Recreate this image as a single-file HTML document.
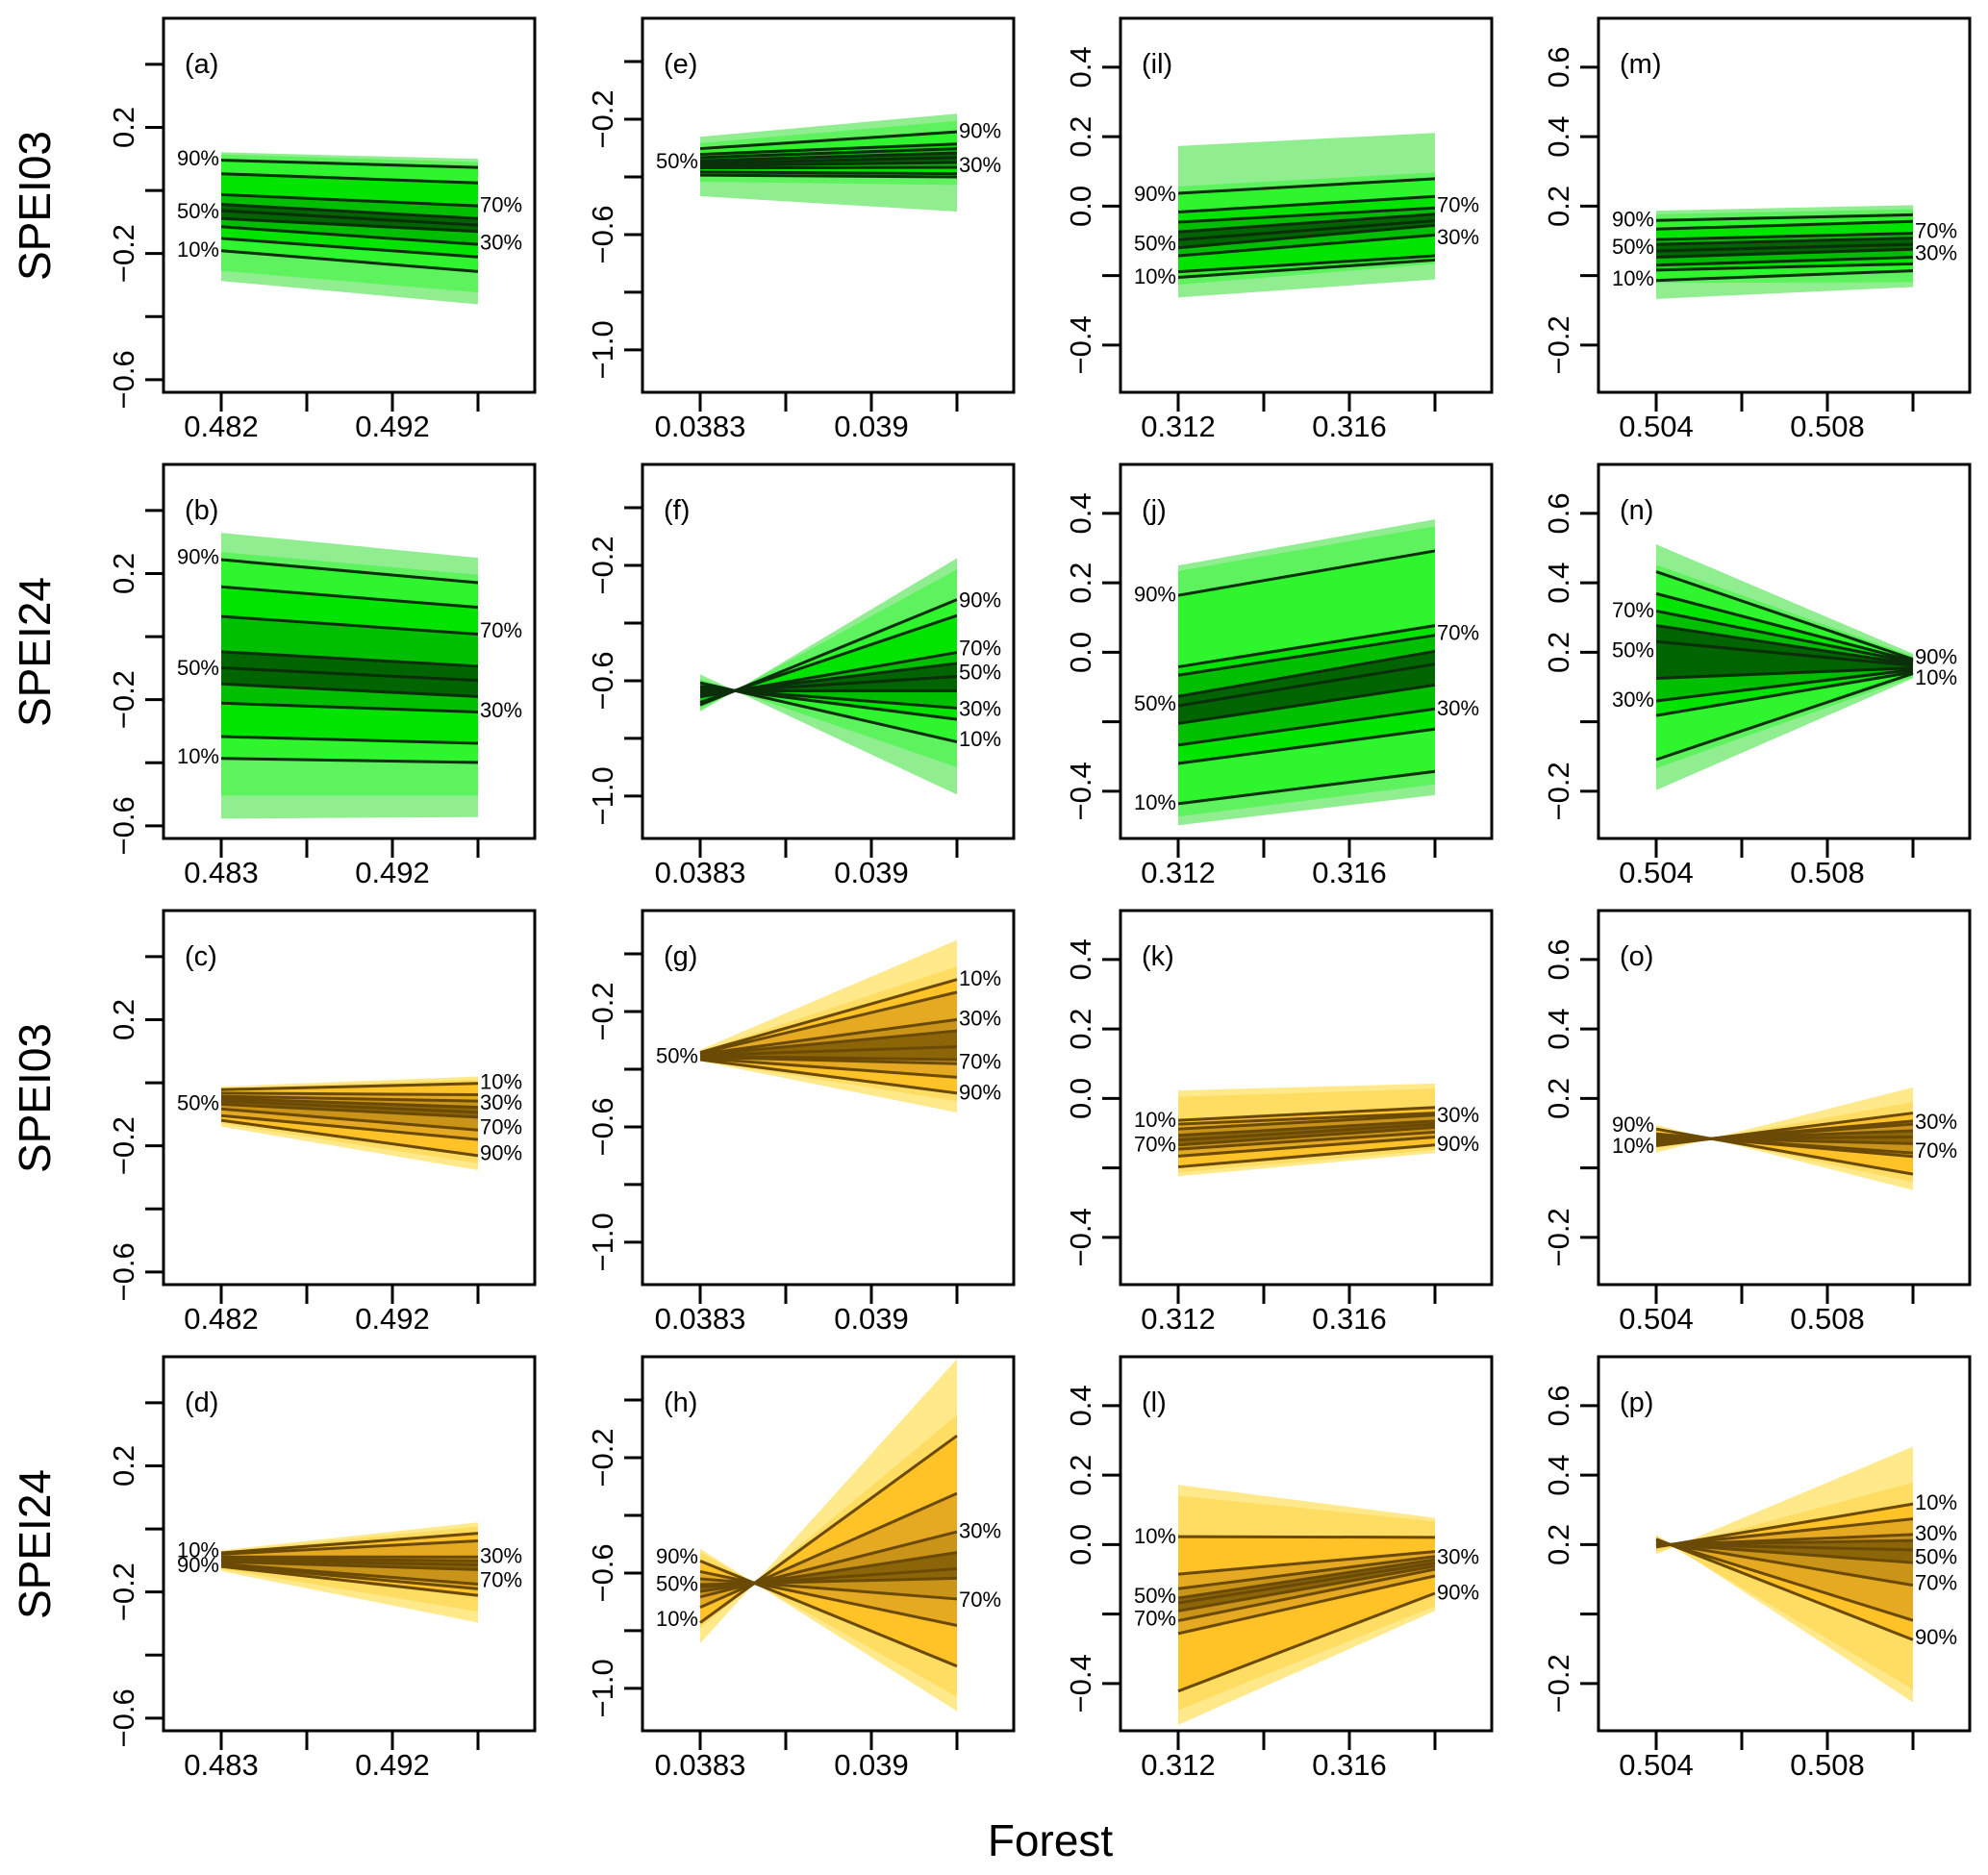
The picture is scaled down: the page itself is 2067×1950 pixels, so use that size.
<!DOCTYPE html>
<html><head><meta charset="utf-8">
<style>
html,body{margin:0;padding:0;background:#fff;}
svg{display:block;font-family:"Liberation Sans",Arial,sans-serif;}
</style></head>
<body>
<svg id="fig" xmlns="http://www.w3.org/2000/svg" width="2067" height="1950" viewBox="0 0 2067 1950">
<rect x="0" y="0" width="2067" height="1950" fill="#fff"/>
<text x="0" y="0" transform="translate(52,214) rotate(-90)" text-anchor="middle" font-size="46">SPEI03</text>
<text x="0" y="0" transform="translate(52,678) rotate(-90)" text-anchor="middle" font-size="46">SPEI24</text>
<text x="0" y="0" transform="translate(52,1142) rotate(-90)" text-anchor="middle" font-size="46">SPEI03</text>
<text x="0" y="0" transform="translate(52,1606) rotate(-90)" text-anchor="middle" font-size="46">SPEI24</text>
<text x="1092" y="1930" text-anchor="middle" font-size="46">Forest</text>
</svg>
<script>
// ---- data: 13 values per end [outer upper, band2 upper, 9 quantile lines, band2 lower, outer lower]
const aL=[0.121,0.114,0.096,0.053,-0.013,-0.044,-0.064,-0.089,-0.115,-0.152,-0.191,-0.255,-0.287];
const aR=[0.100,0.090,0.073,0.024,-0.049,-0.089,-0.110,-0.130,-0.171,-0.211,-0.257,-0.323,-0.361];
const bL=[0.329,0.268,0.244,0.158,0.064,-0.048,-0.099,-0.150,-0.211,-0.317,-0.386,-0.504,-0.577];
const bR=[0.250,0.196,0.171,0.093,0.008,-0.094,-0.139,-0.190,-0.239,-0.338,-0.399,-0.504,-0.572];
const cL=[-0.012,-0.017,-0.022,-0.033,-0.043,-0.050,-0.058,-0.068,-0.083,-0.104,-0.119,-0.129,-0.139];
const cR=[0.020,0.010,-0.002,-0.038,-0.058,-0.078,-0.094,-0.109,-0.150,-0.180,-0.231,-0.256,-0.277];
const dL=[-0.068,-0.072,-0.076,-0.080,-0.089,-0.094,-0.099,-0.104,-0.111,-0.115,-0.119,-0.127,-0.134];
const dR=[0.021,0.008,-0.014,-0.038,-0.089,-0.101,-0.114,-0.129,-0.175,-0.190,-0.211,-0.262,-0.297];
const eL=[-0.261,-0.283,-0.302,-0.322,-0.333,-0.344,-0.353,-0.361,-0.369,-0.383,-0.394,-0.417,-0.467];
const eR=[-0.181,-0.206,-0.244,-0.286,-0.302,-0.317,-0.333,-0.350,-0.367,-0.389,-0.400,-0.428,-0.520];
const fL=[-0.707,-0.700,-0.684,-0.675,-0.656,-0.649,-0.642,-0.635,-0.625,-0.619,-0.607,-0.593,-0.578];
const fR=[-0.175,-0.214,-0.319,-0.374,-0.502,-0.540,-0.585,-0.635,-0.695,-0.734,-0.812,-0.900,-0.995];
const gL=[-0.333,-0.338,-0.342,-0.345,-0.348,-0.350,-0.352,-0.355,-0.358,-0.362,-0.367,-0.370,-0.372];
const gR=[0.048,-0.044,-0.089,-0.133,-0.228,-0.267,-0.322,-0.367,-0.381,-0.428,-0.483,-0.511,-0.550];
const hL=[-0.844,-0.792,-0.772,-0.719,-0.683,-0.664,-0.648,-0.640,-0.620,-0.595,-0.558,-0.529,-0.516];
const hR=[0.142,-0.052,-0.124,-0.324,-0.457,-0.529,-0.585,-0.618,-0.690,-0.782,-0.923,-1.029,-1.079];
const iL=[0.173,0.057,0.037,-0.017,-0.046,-0.074,-0.097,-0.120,-0.143,-0.189,-0.205,-0.226,-0.263];
const iR=[0.211,0.097,0.079,0.028,-0.005,-0.023,-0.042,-0.055,-0.083,-0.143,-0.155,-0.166,-0.211];
const jL=[0.250,0.234,0.164,-0.042,-0.066,-0.127,-0.154,-0.205,-0.267,-0.320,-0.436,-0.473,-0.498];
const jR=[0.383,0.363,0.292,0.077,0.049,0.003,-0.034,-0.094,-0.163,-0.221,-0.343,-0.380,-0.411];
const kL=[0.023,0.005,-0.063,-0.074,-0.088,-0.106,-0.120,-0.134,-0.146,-0.166,-0.197,-0.213,-0.224];
const kR=[0.043,0.028,-0.026,-0.042,-0.048,-0.065,-0.074,-0.083,-0.097,-0.111,-0.134,-0.148,-0.157];
const lL=[0.172,0.141,0.023,-0.085,-0.127,-0.154,-0.168,-0.191,-0.219,-0.256,-0.422,-0.477,-0.519];
const lR=[0.077,0.067,0.021,-0.020,-0.034,-0.043,-0.053,-0.062,-0.071,-0.090,-0.140,-0.177,-0.191];
const mL=[0.187,0.177,0.159,0.134,0.104,0.090,0.071,0.053,0.030,0.016,-0.014,-0.021,-0.067];
const mR=[0.203,0.191,0.175,0.156,0.122,0.108,0.090,0.076,0.053,0.034,0.014,-0.019,-0.033];
const nL=[0.511,0.452,0.432,0.369,0.319,0.277,0.231,0.125,0.060,0.018,-0.109,-0.134,-0.197];
const nR=[0.196,0.189,0.180,0.175,0.171,0.166,0.162,0.155,0.150,0.143,0.139,0.129,0.125];
const oL=[0.044,0.055,0.064,0.070,0.073,0.078,0.083,0.088,0.095,0.098,0.112,0.118,0.124];
const oR=[0.232,0.190,0.158,0.135,0.126,0.107,0.089,0.070,0.043,0.033,-0.018,-0.041,-0.064];
const pL=[0.172,0.180,0.193,0.196,0.198,0.199,0.201,0.203,0.207,0.213,0.216,0.222,0.229];
const pR=[0.482,0.379,0.317,0.274,0.229,0.212,0.185,0.148,0.083,-0.018,-0.074,-0.217,-0.254];

// percent labels: [side, text, value]
const aLab=[["L","90%",0.104],["L","50%",-0.064],["L","10%",-0.186],["R","70%",-0.044],["R","30%",-0.163]];
const bLab=[["L","90%",0.255],["L","50%",-0.097],["L","10%",-0.378],["R","70%",0.021],["R","30%",-0.231]];
const cLab=[["L","50%",-0.063],["R","10%",0.005],["R","30%",-0.060],["R","70%",-0.139],["R","90%",-0.221]];
const dLab=[["L","10%",-0.065],["L","90%",-0.112],["R","30%",-0.083],["R","70%",-0.160]];
const eLab=[["L","50%",-0.344],["R","90%",-0.239],["R","30%",-0.356]];
const fLab=[["R","90%",-0.319],["R","70%",-0.485],["R","50%",-0.568],["R","30%",-0.695],["R","10%",-0.801]];
const gLab=[["L","50%",-0.352],["R","10%",-0.083],["R","30%",-0.222],["R","70%",-0.372],["R","90%",-0.478]];
const hLab=[["L","90%",-0.541],["L","50%",-0.635],["L","10%",-0.757],["R","30%",-0.452],["R","70%",-0.690]];
const iLab=[["L","90%",0.037],["L","50%",-0.106],["L","10%",-0.201],["R","70%",0.005],["R","30%",-0.088]];
const jLab=[["L","90%",0.169],["L","50%",-0.145],["L","10%",-0.431],["R","70%",0.058],["R","30%",-0.159]];
const kLab=[["L","10%",-0.060],["L","70%",-0.130],["R","30%",-0.046],["R","90%",-0.129]];
const lLab=[["L","10%",0.026],["L","50%",-0.145],["L","70%",-0.210],["R","30%",-0.034],["R","90%",-0.136]];
const mLab=[["L","90%",0.164],["L","50%",0.085],["L","10%",-0.007],["R","70%",0.131],["R","30%",0.067]];
const nLab=[["L","70%",0.323],["L","50%",0.208],["L","30%",0.065],["R","90%",0.189],["R","10%",0.129]];
const oLab=[["L","90%",0.126],["L","10%",0.066],["R","30%",0.135],["R","70%",0.052]];
const pLab=[["R","10%",0.323],["R","30%",0.235],["R","50%",0.166],["R","70%",0.092],["R","90%",-0.065]];

// axis tick values
const col0YTicks=[0.4,0.2,0.0,-0.2,-0.4,-0.6];
const col0YLabels=["","0.2","","−0.2","","−0.6"];
const col1YTicks=[0.0,-0.2,-0.4,-0.6,-0.8,-1.0];
const col1YLabels=["","−0.2","","−0.6","","−1.0"];
const col2YTicks=[0.4,0.2,0.0,-0.2,-0.4];
const col2YLabels=["0.4","0.2","0.0","","−0.4"];
const col3YTicks=[0.6,0.4,0.2,0.0,-0.2];
const col3YLabels=["0.6","0.4","0.2","","−0.2"];
const xTicksA=[0.482,0.487,0.492,0.497];
const xLabelsA=["0.482","","0.492",""];
const xTicksB=[0.483,0.4875,0.492,0.4965];
const xLabelsB=["0.483","","0.492",""];
const xTicksE=[0.0383,0.03865,0.0390,0.03935];
const xLabelsE=["0.0383","","0.039",""];
const xTicksI=[0.312,0.314,0.316,0.318];
const xLabelsI=["0.312","","0.316",""];
const xTicksM=[0.504,0.506,0.508,0.510];
const xLabelsM=["0.504","","0.508",""];

// ---- layout / style
const COLS=[170,668,1165,1662], ROWS=[19,483,947,1411], W=386, H=389;
const YRANGE=[[0.546,-0.640],[0.15,-1.147],[0.541,-0.536],[0.741,-0.336]];
const YT=[[col0YTicks,col0YLabels],[col1YTicks,col1YLabels],[col2YTicks,col2YLabels],[col3YTicks,col3YLabels]];
const GREEN=['#90EE90','#5EF25E','#2EF52E','#00E400','#00BE00','#006400'];
const YELLOW=['#FFE98A','#FFDC62','#FFC227','#E6AA22','#C99418','#8B6508'];

const panels=[
 {id:'a',c:0,r:0,L:aL,R:aR,lab:aLab,xt:xTicksA,xl:xLabelsA,pal:'g'},
 {id:'b',c:0,r:1,L:bL,R:bR,lab:bLab,xt:xTicksB,xl:xLabelsB,pal:'g'},
 {id:'c',c:0,r:2,L:cL,R:cR,lab:cLab,xt:xTicksA,xl:xLabelsA,pal:'y'},
 {id:'d',c:0,r:3,L:dL,R:dR,lab:dLab,xt:xTicksB,xl:xLabelsB,pal:'y'},
 {id:'e',c:1,r:0,L:eL,R:eR,lab:eLab,xt:xTicksE,xl:xLabelsE,pal:'g'},
 {id:'f',c:1,r:1,L:fL,R:fR,lab:fLab,xt:xTicksE,xl:xLabelsE,pal:'g'},
 {id:'g',c:1,r:2,L:gL,R:gR,lab:gLab,xt:xTicksE,xl:xLabelsE,pal:'y'},
 {id:'h',c:1,r:3,L:hL,R:hR,lab:hLab,xt:xTicksE,xl:xLabelsE,pal:'y'},
 {id:'il',c:2,r:0,L:iL,R:iR,lab:iLab,xt:xTicksI,xl:xLabelsI,pal:'g'},
 {id:'j',c:2,r:1,L:jL,R:jR,lab:jLab,xt:xTicksI,xl:xLabelsI,pal:'g'},
 {id:'k',c:2,r:2,L:kL,R:kR,lab:kLab,xt:xTicksI,xl:xLabelsI,pal:'y'},
 {id:'l',c:2,r:3,L:lL,R:lR,lab:lLab,xt:xTicksI,xl:xLabelsI,pal:'y'},
 {id:'m',c:3,r:0,L:mL,R:mR,lab:mLab,xt:xTicksM,xl:xLabelsM,pal:'g'},
 {id:'n',c:3,r:1,L:nL,R:nR,lab:nLab,xt:xTicksM,xl:xLabelsM,pal:'g'},
 {id:'o',c:3,r:2,L:oL,R:oR,lab:oLab,xt:xTicksM,xl:xLabelsM,pal:'y'},
 {id:'p',c:3,r:3,L:pL,R:pR,lab:pLab,xt:xTicksM,xl:xLabelsM,pal:'y'}
];

const NS='http://www.w3.org/2000/svg';
const svg=document.getElementById('fig');
function mk(tag,attrs,parent){const e=document.createElementNS(NS,tag);for(const k in attrs)e.setAttribute(k,attrs[k]);(parent||svg).appendChild(e);return e;}

panels.forEach(p=>{
  const left=COLS[p.c], top=ROWS[p.r];
  const [yTop,yBot]=YRANGE[p.c];
  const yS=v=>top+(yTop-v)/(yTop-yBot)*H;
  const t0=p.xt[0], t3=p.xt[3];
  const xS=v=>left+60+(v-t0)/(t3-t0)*267;
  const g=mk('g',{});
  
  
  const x0=xS(t0), x1=xS(t3);
  const pal=p.pal==='g'?GREEN:YELLOW;
  for(let i=0;i<6;i++){
    const a=i, b=12-i;
    const poly=mk('polygon',{points:`${x0},${yS(p.L[a])} ${x1},${yS(p.R[a])} ${x1},${yS(p.R[b])} ${x0},${yS(p.L[b])}`,fill:pal[i]},g);
    
    
  }
  const lc=p.pal==='g'?'#0B2E0B':'#6B4A06';
  for(let i=2;i<=10;i++){
    const ln=mk('line',{x1:x0,y1:yS(p.L[i]),x2:x1,y2:yS(p.R[i]),stroke:lc,'stroke-width':3},g);
    
    
  }
  p.lab.forEach(l=>{
    const isL=l[0]==='L';
    const t=mk('text',{x:isL?x0-2:x1+2,y:yS(l[2])+8,'text-anchor':isL?'end':'start','font-size':22},g);
    t.textContent=l[1];
    
    
  });
  const box=mk('rect',{x:left,y:top,width:W,height:H,fill:'none',stroke:'#000','stroke-width':3},g);
  
  
  const yt=YT[p.c];
  yt[0].forEach((v,i)=>{
    const y=yS(v);
    const tk=mk('line',{x1:left-19,y1:y,x2:left,y2:y,stroke:'#000','stroke-width':3},g);
    
    
    if(yt[1][i]){
      const t=mk('text',{x:0,y:0,transform:`translate(${left-31},${y}) rotate(-90)`,'text-anchor':'middle','font-size':31},g);
      t.textContent=yt[1][i];
      
      
    }
  });
  p.xt.forEach((v,i)=>{
    const x=xS(v);
    const tk=mk('line',{x1:x,y1:top+H,x2:x,y2:top+H+20,stroke:'#000','stroke-width':3},g);
    
    
    if(p.xl[i]){
      const t=mk('text',{x:x,y:top+H+46,'text-anchor':'middle','font-size':31},g);
      t.textContent=p.xl[i];
      
      
    }
  });
  const pl=mk('text',{x:left+22,y:top+57,'font-size':29},g);
  pl.textContent='('+p.id+')';
  
  
});
</script>
</body></html>
